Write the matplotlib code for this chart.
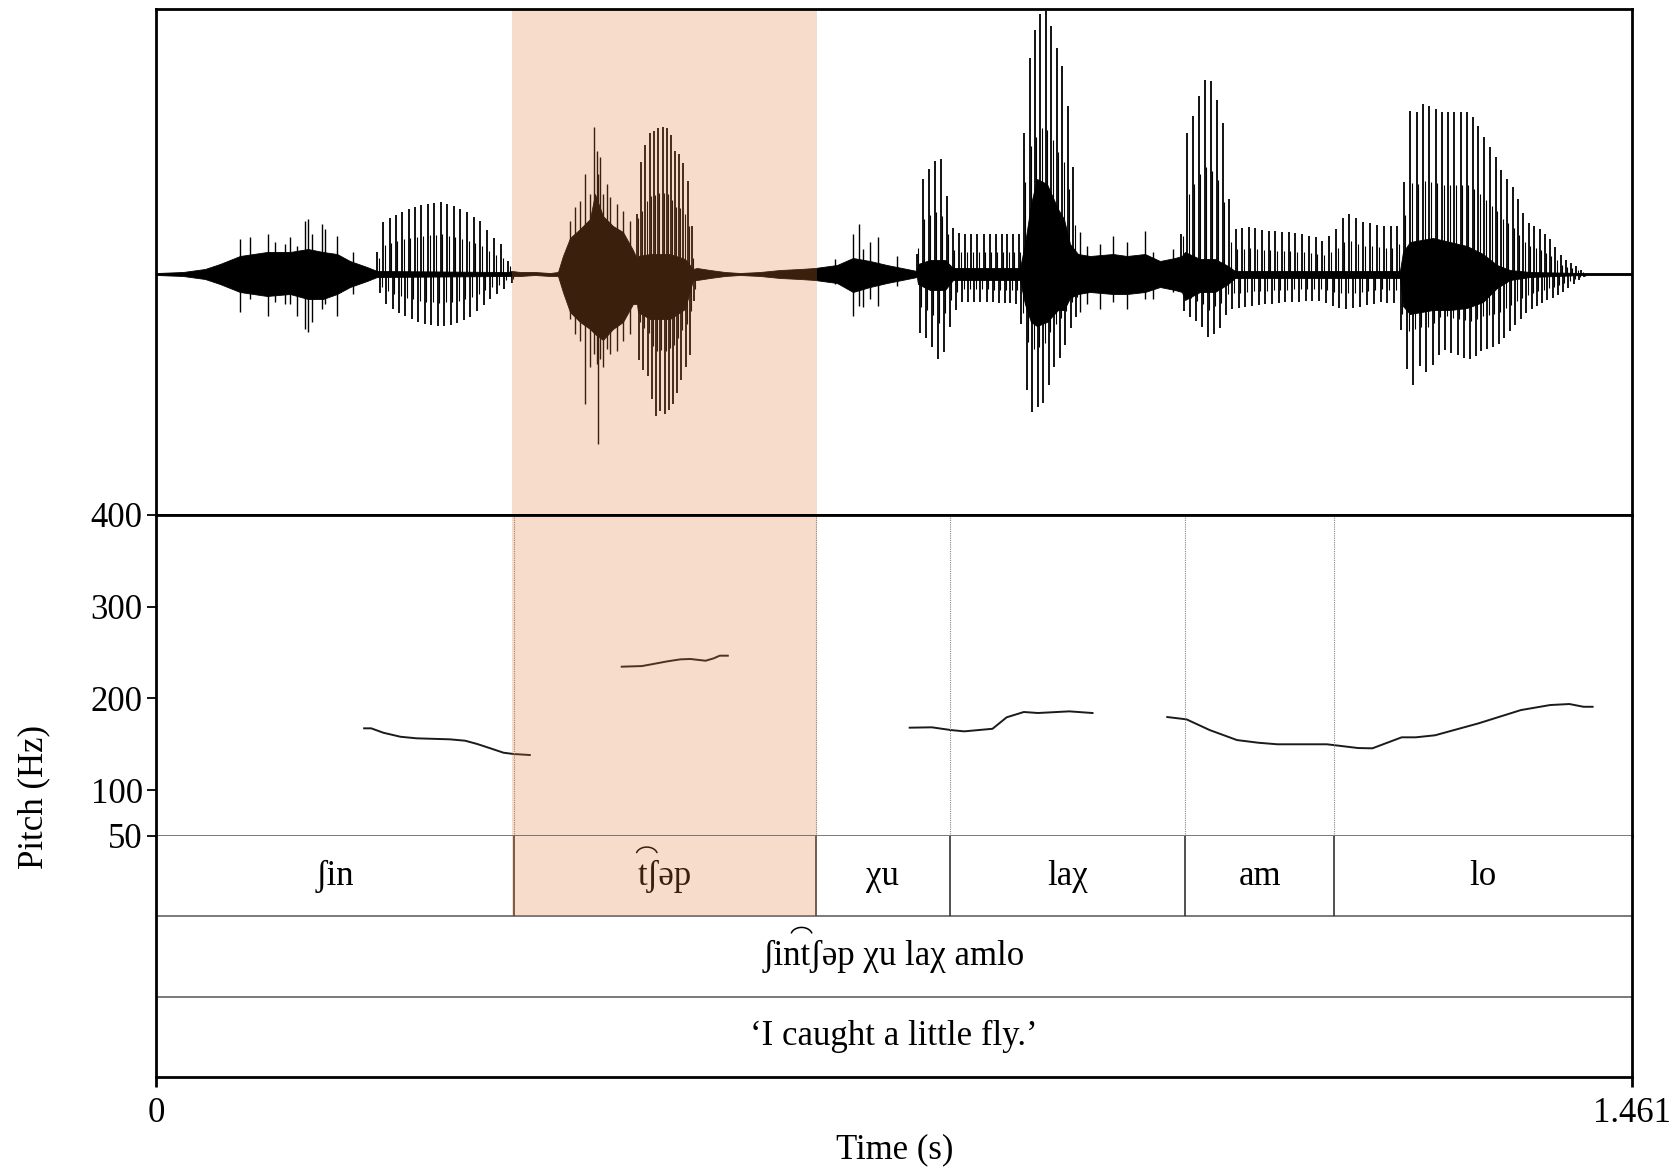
import numpy as np
import matplotlib.pyplot as plt

plt.rcParams['font.family'] = ['Liberation Serif', 'DejaVu Serif']

t_end = 1.461

# pitch track (s, Hz), four voiced stretches
p1_t = [0.206, 0.213, 0.225, 0.242, 0.258, 0.291, 0.306, 0.318, 0.331, 0.344, 0.354, 0.370]
p1_f = [167.4, 167.4, 162.6, 158.2, 156.5, 155.4, 153.9, 150.3, 145.6, 140.8, 139.4, 138.3]
p2_t = [0.461, 0.481, 0.492, 0.506, 0.519, 0.529, 0.544, 0.552, 0.558, 0.566]
p2_f = [234.6, 235.3, 237.5, 240.4, 242.6, 243.0, 241.1, 243.7, 246.6, 246.6]
p3_t = [0.746, 0.768, 0.787, 0.800, 0.828, 0.842, 0.859, 0.873, 0.904, 0.927]
p3_f = [168.1, 168.5, 165.5, 164.1, 166.9, 179.4, 185.2, 184.1, 185.9, 184.1]
p4_t = [1.001, 1.020, 1.043, 1.070, 1.091, 1.110, 1.159, 1.190, 1.204, 1.233, 1.247,
        1.266, 1.309, 1.351, 1.380, 1.399, 1.413, 1.422]
p4_f = [179.7, 177.2, 165.5, 154.6, 151.7, 150.0, 150.0, 145.9, 145.6, 157.6, 157.6,
        159.8, 172.8, 187.3, 192.8, 193.9, 190.9, 190.9]

# text grid (the tie over "tʃ" is drawn separately)
bounds = [0, 0.354, 0.653, 0.786, 1.019, 1.1665, 1.461]
syllables = ['ʃin', 'tʃəp', 'χu', 'laχ', 'am', 'lo']
word_line = 'ʃintʃəp χu laχ amlo'
gloss = '‘I caught a little fly.’'
highlight = (0.352, 0.654)

# waveform (ms, amplitude units)
# solid band around zero
core_ms = [0, 1.0, 26.7, 48.5, 63.3, 83.1, 109.9, 132.6, 150.4, 165.3, 179.2, 192.0, 208.8, 218.7,
           348.4, 352.4, 360.3, 375.1, 390.0, 397.9,
           402.8, 409.8, 419.7, 429.6, 434.5, 442.4, 452.3, 462.2, 472.1, 476.1,
           477.1, 489.0, 508.8, 523.6, 531.5,
           535.5, 548.3, 563.2, 578.0, 597.9, 617.7, 637.4, 652.3,
           674.1, 689.9, 706.7, 723.5, 743.3, 753.2,
           754.2, 766.1, 781.0, 788.9, 855.2, 860.1, 866.1, 872.0, 881.9, 892.8, 898.7, 904.7, 912.6,
           924.5, 947.2, 961.1, 978.9, 993.8, 1008.6, 1015.5,
           1018.5, 1033.3, 1048.2, 1061.1, 1068.0, 1231.3, 1234.3, 1241.2, 1264.0, 1280.8, 1297.6,
           1313.5, 1327.3, 1340.2, 1360.0, 1412.4, 1461.0]
core_hi = [1, 1, 2, 5, 10, 18, 22, 22, 25, 22, 20, 13, 7, 3,
           2, 3, 2, 2, 1, 2,
           18, 36, 45, 55, 80, 58, 48, 42, 24, 15,
           18, 20, 20, 15, 5,
           6, 4, 2, 1, 2, 4, 5, 6,
           9, 16, 13, 9, 5, 3,
           10, 14, 14, 6, 6, 30, 70, 95, 90, 65, 55, 30, 20,
           18, 20, 18, 20, 13, 16, 18,
           22, 15, 15, 8, 3, 3, 22, 32, 36, 32, 28,
           20, 9, 4, 2, 1, 1]
core_lo = [1, 1, 2, 5, 10, 18, 22, 20, 25, 25, 20, 13, 7, 3,
           2, 2, 2, 1, 2, 2,
           18, 38, 48, 55, 60, 66, 55, 48, 30, 30,
           38, 45, 45, 35, 6,
           6, 4, 2, 1, 2, 4, 5, 6,
           9, 18, 13, 9, 5, 3,
           10, 16, 16, 6, 6, 30, 48, 52, 48, 36, 36, 24, 20,
           18, 20, 20, 18, 13, 16, 18,
           26, 18, 18, 10, 4, 4, 32, 40, 36, 36, 34,
           28, 14, 6, 3, 1, 1]

# glottal pulse envelope inside voiced stretches
env_ms = [218.7, 224.7, 238.5, 258.3, 276.2, 283.1, 296.0, 307.8, 320.7, 333.6, 343.5, 348.4,
          476.1, 477.1, 482.0, 487.0, 493.9, 498.9, 503.8, 508.8, 513.7, 518.7, 523.6, 528.6, 531.5,
          753.2, 754.2, 759.2, 766.1, 771.0, 777.0, 781.0, 783.9, 788.9, 795.8, 825.5, 855.2,
          860.1, 866.1, 872.0, 877.0, 881.9, 887.9, 892.8, 898.7, 904.7, 909.6, 912.6,
          1015.5, 1018.5, 1025.4, 1030.4, 1036.3, 1042.2, 1048.2, 1055.1, 1061.1, 1065.0, 1068.0,
          1082.8, 1099.7, 1122.4, 1149.2, 1155.1, 1167.0, 1174.9, 1181.8, 1194.7, 1214.5, 1229.3,
          1234.3, 1238.2, 1241.2, 1243.2, 1248.1, 1254.1, 1261.0, 1273.9, 1297.6, 1303.6, 1310.5,
          1320.4, 1327.3, 1333.3, 1342.2, 1348.1, 1357.1, 1367.0, 1379.8, 1392.7, 1406.5, 1412.4]
env_hi = [20, 52, 60, 68, 71, 72, 68, 62, 53, 37, 28, 13,
          60, 103, 117, 140, 143, 147, 147, 143, 123, 120, 107, 80, 27,
          20, 45, 98, 107, 113, 115, 83, 75, 45, 40, 40, 40,
          162, 233, 250, 265, 263, 243, 222, 203, 148, 85, 58,
          40, 135, 155, 172, 192, 198, 178, 162, 88, 45, 45,
          47, 43, 42, 37, 33, 43, 57, 60, 52, 48, 48,
          85, 120, 163, 165, 162, 170, 168, 162, 162, 157, 145,
          127, 115, 100, 88, 75, 52, 47, 35, 15, 8, 3]
env_lo = [10, 27, 38, 48, 52, 52, 50, 45, 35, 22, 18, 8,
          50, 83, 95, 103, 143, 137, 140, 135, 127, 110, 95, 80, 27,
          20, 58, 60, 70, 78, 93, 72, 60, 42, 28, 28, 30,
          105, 140, 133, 133, 117, 95, 87, 75, 55, 45, 40,
          35, 38, 45, 48, 55, 65, 58, 52, 35, 35, 35,
          32, 30, 28, 27, 28, 33, 35, 35, 32, 28, 30,
          80, 95, 110, 122, 85, 100, 95, 75, 85, 85, 78,
          74, 72, 65, 55, 48, 38, 32, 25, 18, 8, 3]
voiced_ms = [(219, 350), (476, 532), (753, 913), (1015, 1413)]

# single noise spikes in the fricatives / burst
spike_ms = [83.1, 93.0, 110.9, 117.8, 127.7, 132.6, 139.6, 147.5, 150.4, 154.4, 164.3, 167.3, 179.2, 195.0,
            409.8, 414.7, 419.7, 424.6, 429.6, 433.5, 436.5, 437.5, 439.5, 442.4, 446.4, 449.4, 456.3,
            462.2, 469.2,
            672.1, 689.9, 695.8, 699.8, 706.7, 714.6, 733.4,
            914.6, 921.5, 934.4, 947.2, 961.1, 978.9, 986.8, 1006.6]
spike_hi = [35, 37, 40, 32, 30, 37, 28, 53, 55, 40, 50, 45, 38, 22,
            53, 67, 73, 100, 80, 147, 123, 100, 117, 80, 90, 77, 70, 63, 53,
            15, 40, 50, 25, 32, 37, 18,
            42, 28, 30, 38, 32, 43, 22, 25]
spike_lo = [38, 25, 42, 28, 30, 30, 42, 55, 58, 48, 35, 30, 42, 20,
            45, 60, 67, 130, 93, 80, 90, 170, 85, 93, 75, 80, 77, 67, 60,
            10, 42, 32, 33, 25, 32, 12,
            38, 30, 35, 28, 35, 25, 25, 18]

W, H = 1678, 1172
fs = 25
fig = plt.figure(figsize=(W / 100, H / 100), dpi=100)


def box(top, bottom):
    return [156 / W, 1 - bottom / H, (1632 - 156) / W, (bottom - top) / H]


ax_w = fig.add_axes(box(9, 515))
ax_p = fig.add_axes(box(515, 836))
ax_t = fig.add_axes(box(836, 1077))
shade = (228 / 255, 120 / 255, 54 / 255)

# --- waveform
ct = np.array(core_ms) / 1000
ax_w.fill_between(ct, -np.array(core_lo), core_hi, color='k', lw=0.6, zorder=1)
ax_w.axhline(0, color='k', lw=1.0, zorder=1)
st = np.array(spike_ms) / 1000
ax_w.vlines(st, -np.array(spike_lo), spike_hi, color='k', lw=1.0)

pt = np.concatenate([p1_t, p2_t, p3_t, p4_t])
pf = np.concatenate([p1_f, p2_f, p3_f, p4_f])
et = np.array(env_ms) / 1000
pulses = []
for a, b in voiced_ms:
    t = a / 1000
    while t < b / 1000:
        pulses.append(t)
        t += 1 / np.interp(t, pt, pf)
pulses = np.array(pulses)
per = 1 / np.interp(pulses, pt, pf)
# main positive and negative peak of each period, plus weaker ones in between
ax_w.vlines(pulses, 0, np.interp(pulses, et, env_hi), color='k', lw=1.3)
ax_w.vlines(pulses + 0.5 * per, -np.interp(pulses + 0.5 * per, et, env_lo), 0, color='k', lw=1.3)
ax_w.vlines(pulses + 0.25 * per, 0, 0.55 * np.interp(pulses + 0.25 * per, et, env_hi), color='k', lw=0.8)
ax_w.vlines(pulses + 0.75 * per, -0.55 * np.interp(pulses + 0.75 * per, et, env_lo), 0, color='k', lw=0.8)
ax_w.set_xlim(0, t_end)
ax_w.set_ylim(-241, 265)
ax_w.set_xticks([])
ax_w.set_yticks([])
ax_w.axvspan(*highlight, color=shade, alpha=0.26, lw=0, zorder=2.4)

# --- pitch
for tt, ff in [(p1_t, p1_f), (p2_t, p2_f), (p3_t, p3_f), (p4_t, p4_f)]:
    ax_p.plot(tt, ff, color='#1a1a1a', lw=1.4)
ax_p.vlines(bounds[1:-1], 50, 400, colors='#888888', linestyles=(0, (1, 1)), lw=0.8)
ax_p.set_xlim(0, t_end)
ax_p.set_ylim(50, 400)
ax_p.set_xticks([])
ax_p.set_yticks([50, 100, 200, 300, 400])
ax_p.tick_params(axis='y', length=6.5, width=1.3, pad=3, labelsize=fs)
ax_p.axvspan(*highlight, color=shade, alpha=0.26, lw=0, zorder=2.4)

# --- tiers
ax_t.set_xlim(0, t_end)
ax_t.set_ylim(0, 3)
ax_t.axhline(2, color='#555555', lw=1.1)
ax_t.axhline(1, color='#555555', lw=1.1)
ax_t.vlines(bounds[1:-1], 2, 3, colors='#333333', lw=1.2)
labels = []
for i, s in enumerate(syllables):
    labels.append(ax_t.text((bounds[i] + bounds[i + 1]) / 2, 2.5, s, ha='center', va='center',
                            fontsize=fs, zorder=2))
word_txt = ax_t.text(t_end / 2, 1.5, word_line, ha='center', va='center', fontsize=fs)
ax_t.text(t_end / 2, 0.5, gloss, ha='center', va='center', fontsize=fs)
ax_t.axvspan(*highlight, ymin=2 / 3, ymax=1, color=shade, alpha=0.26, lw=0, zorder=2.4)
ax_t.set_yticks([])
ax_t.set_xticks([0, t_end], ['0', '1.461'])
ax_t.tick_params(axis='x', length=7.5, width=2, pad=7, labelsize=fs)

for ax in (ax_w, ax_p, ax_t):
    for sp in ax.spines.values():
        sp.set_linewidth(2)
ax_p.spines['bottom'].set_linewidth(1.1)
ax_p.spines['bottom'].set_color('#555555')
ax_t.spines['top'].set_visible(False)

# tie bar over the affricate "tʃ", measured from the right end of each label
r = fig.canvas.get_renderer()


def text_w(s):
    tmp = fig.text(0, 0, s, fontsize=fs)
    w = tmp.get_window_extent(r).width
    tmp.remove()
    return w


def tie(txt, rest, shift=0):
    bb = txt.get_window_extent(r)
    x0 = bb.x1 - text_w('tʃ' + rest) - 1 + shift
    x1 = bb.x1 - text_w(rest) - 2 + shift
    th = np.linspace(0.1 * np.pi, 0.9 * np.pi, 30)
    xs = (x0 + x1) / 2 + (x1 - x0) / 2 * np.cos(th) / np.cos(0.1 * np.pi)
    ys = bb.y1 + 7 + 8 * (np.sin(th) - np.sin(0.1 * np.pi))
    pts = ax_t.transData.inverted().transform(np.column_stack([xs, ys]))
    ax_t.plot(pts[:, 0], pts[:, 1], color='k', lw=1.1, zorder=2, solid_capstyle='round')


tie(labels[1], 'əp')
tie(word_txt, 'əp χu laχ amlo', shift=-9)

fig.text(895 / W, 1 - 1150 / H, 'Time (s)', ha='center', va='center', fontsize=fs)
fig.text(34 / W, 1 - 797 / H, 'Pitch (Hz)', ha='center', va='center', rotation=90, fontsize=fs)

fig.savefig('out.png', dpi=100)
